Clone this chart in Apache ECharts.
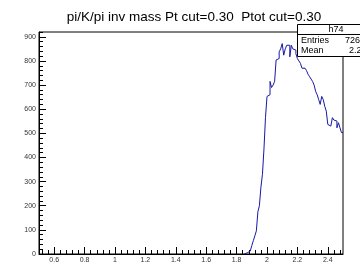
<!DOCTYPE html>
<html>
<head>
<meta charset="utf-8">
<script src="https://cdn.jsdelivr.net/npm/echarts@6/dist/echarts.min.js"></script>
<style>
  html, body { margin: 0; padding: 0; background: #fff; }
  #main { width: 360px; height: 264px; }
</style>
</head>
<body>
<div id="main"></div>
<script>
// histogram h74, bins of 0.01 starting at 1.85
var binStart = 1.85;
var binWidth = 0.01;
var counts = [
  0, 5, 8, 12, 20, 35, 55, 75, 96, 175,
  200, 277, 330, 435, 565, 653, 660, 715, 690, 700,
  715, 804, 810, 838, 850, 872, 824, 850, 865, 865,
  817, 865, 850, 845, 830, 810, 800, 790, 770, 770,
  776, 760, 745, 735, 725, 715, 700, 674, 660, 640,
  620, 653, 640, 612, 592, 537, 530, 530, 565, 555,
  551, 523, 544, 523, 503
];
var xTicks = [0.6, 0.8, 1, 1.2, 1.4, 1.6, 1.8, 2, 2.2, 2.4];
var yTicks = [0, 100, 200, 300, 400, 500, 600, 700, 800, 900];
var xMin = 0.5, xMax = 2.5, yMin = 0, yMax = 920;

var titleText = 'pi/K/pi inv mass Pt cut=0.30  Ptot cut=0.30';
var statsName = 'h74';
var statsRows = [['Entries', '726'], ['Mean', '2.2']];

// minor ticks (5 divisions per major)
var xMinor = [];
for (var i = 0; i <= 50; i++) {
  var v = +(0.52 + i * 0.04).toFixed(2);
  if (v < xMax) xMinor.push(v);
}
var yMinor = [];
for (var j = 0; j <= 46; j++) yMinor.push(j * 20);

// step data
var data = counts.map(function (c, k) { return [+(binStart + k * binWidth).toFixed(2), c]; });
data.push([+(binStart + counts.length * binWidth).toFixed(2), counts[counts.length - 1]]);

var myChart = echarts.init(document.getElementById('main'));
var font = 'Liberation Sans, Arial, sans-serif';

var option = {
  animation: false,
  backgroundColor: '#fff',
  title: {
    text: titleText,
    left: 189, top: 5,
    textAlign: 'center',
    textStyle: { fontFamily: font, fontSize: 13.5, fontWeight: 'normal', color: '#000' }
  },
  grid: {
    left: 39, top: 32, width: 304, height: 224,
    show: true, borderColor: '#000', borderWidth: 1
  },
  xAxis: [{
    type: 'value', min: xMin, max: xMax,
    axisLine: { onZero: false, lineStyle: { color: '#000' } },
    axisTick: { inside: true, length: 7, customValues: xTicks, lineStyle: { color: '#000' } },
    axisLabel: { customValues: xTicks, fontFamily: font, fontSize: 7, color: '#333', margin: 3 },
    splitLine: { show: false }
  }, {
    type: 'value', min: xMin, max: xMax, position: 'bottom',
    axisLine: { show: false },
    axisTick: { inside: true, length: 4, customValues: xMinor, lineStyle: { color: '#000' } },
    axisLabel: { show: false },
    splitLine: { show: false }
  }],
  yAxis: [{
    type: 'value', min: yMin, max: yMax,
    axisLine: { show: true, lineStyle: { color: '#000' } },
    axisTick: { show: true, inside: true, length: 7, customValues: yTicks, lineStyle: { color: '#000' } },
    axisLabel: { customValues: yTicks, fontFamily: font, fontSize: 7, color: '#333', margin: 3 },
    splitLine: { show: false }
  }, {
    type: 'value', min: yMin, max: yMax, position: 'left',
    axisLine: { show: false },
    axisTick: { show: true, inside: true, length: 4, customValues: yMinor, lineStyle: { color: '#000' } },
    axisLabel: { show: false },
    splitLine: { show: false }
  }],
  series: [{
    type: 'line',
    step: 'end',
    symbol: 'none',
    data: data,
    lineStyle: { color: '#1818a8', width: 1 },
    z: 3
  }],
  graphic: [
    { type: 'rect', shape: { x: 297.5, y: 24.5, width: 80, height: 32 },
      style: { fill: '#fff', stroke: '#000', lineWidth: 1 }, z: 10 },
    { type: 'line', shape: { x1: 297.5, y1: 34.5, x2: 360, y2: 34.5 },
      style: { stroke: '#000', lineWidth: 1 }, z: 11 },
    { type: 'text', x: 336, y: 29.5, style: { text: statsName, font: '9px ' + font, fill: '#000', textAlign: 'center', textVerticalAlign: 'middle' }, z: 11 },
    { type: 'text', x: 301, y: 40.5, style: { text: statsRows[0][0], font: '9px ' + font, fill: '#000', textVerticalAlign: 'middle' }, z: 11 },
    { type: 'text', x: 345, y: 40.5, style: { text: statsRows[0][1], font: '9px ' + font, fill: '#000', textVerticalAlign: 'middle' }, z: 11 },
    { type: 'text', x: 301, y: 50.5, style: { text: statsRows[1][0], font: '9px ' + font, fill: '#000', textVerticalAlign: 'middle' }, z: 11 },
    { type: 'text', x: 349, y: 50.5, style: { text: statsRows[1][1], font: '9px ' + font, fill: '#000', textVerticalAlign: 'middle' }, z: 11 }
  ]
};

myChart.setOption(option);
</script>
</body>
</html>
